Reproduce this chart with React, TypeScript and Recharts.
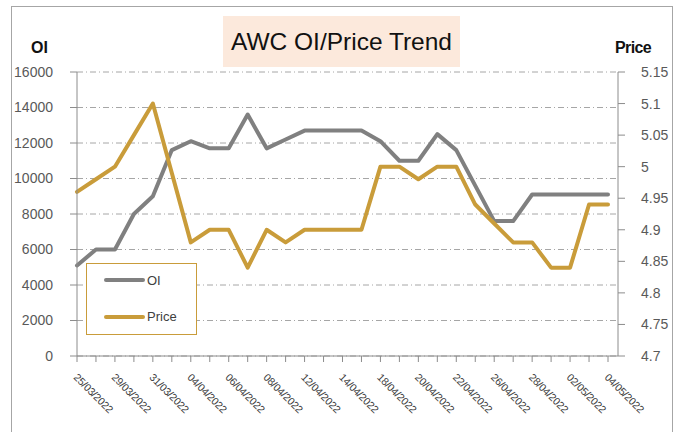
import { LineChart, Line, XAxis, YAxis, CartesianGrid } from 'recharts';

const dates = [
  '25/03/2022', '28/03/2022', '29/03/2022', '30/03/2022', '31/03/2022', '01/04/2022',
  '04/04/2022', '05/04/2022', '06/04/2022', '07/04/2022', '08/04/2022', '11/04/2022',
  '12/04/2022', '13/04/2022', '14/04/2022', '15/04/2022', '18/04/2022', '19/04/2022',
  '20/04/2022', '21/04/2022', '22/04/2022', '25/04/2022', '26/04/2022', '27/04/2022',
  '28/04/2022', '29/04/2022', '02/05/2022', '03/05/2022', '04/05/2022',
];

const oi = [
  5100, 6000, 6000, 8000, 9000, 11600, 12100, 11700, 11700, 13600, 11700, 12200,
  12700, 12700, 12700, 12700, 12100, 11000, 11000, 12500, 11600, 9600, 7600, 7600,
  9100, 9100, 9100, 9100, 9100,
];

const price = [
  4.96, 4.98, 5.0, 5.05, 5.1, 4.99, 4.88, 4.9, 4.9, 4.84, 4.9, 4.88,
  4.9, 4.9, 4.9, 4.9, 5.0, 5.0, 4.98, 5.0, 5.0, 4.94, 4.91, 4.88,
  4.88, 4.84, 4.84, 4.94, 4.94,
];

const oiTicks = [0, 2000, 4000, 6000, 8000, 10000, 12000, 14000, 16000];
const priceTicks = [4.7, 4.75, 4.8, 4.85, 4.9, 4.95, 5.0, 5.05, 5.1, 5.15];

const seriesNames = ['OI', 'Price'];
const GRAY = '#808080';
const GOLD = '#C99C3A';
const FONT = '"Liberation Sans", Arial, sans-serif';

const data = dates.map((d, i) => ({ date: d, oi: oi[i], price: price[i] }));

function DateTick(props: any) {
  const { x, y, index, payload } = props;
  if (index % 2 !== 0) return null;
  const tx = x - 4;
  const ty = y + 14;
  return (
    <text
      x={tx}
      y={ty}
      transform={`rotate(45, ${tx}, ${ty})`}
      fontSize={10.5}
      fontFamily={FONT}
      fill="#404040"
      textAnchor="start"
      letterSpacing={-0.2}
    >
      {payload.value}
    </text>
  );
}

export default function App() {
  return (
    <div style={{ position: 'absolute', left: 0, top: 0, width: 682, height: 432, background: '#fff', overflow: 'hidden', fontFamily: FONT }}>
      {/* outer frame, bottom edge sits below the viewport */}
      <div style={{ position: 'absolute', left: 11, top: 6, width: 660, height: 440, border: '1.5px solid #A6A6A6' }} />

      <div style={{
        position: 'absolute', left: 223, top: 16, width: 237, height: 51, background: '#FCE9DC',
        fontSize: 24.5, lineHeight: '51px', textAlign: 'center', color: '#111',
      }}>
        AWC OI/Price Trend
      </div>

      <div style={{ position: 'absolute', left: 31, top: 39.5, fontSize: 16, lineHeight: '16px', fontWeight: 'bold', color: '#111' }}>OI</div>
      <div style={{ position: 'absolute', left: 615, top: 39.5, fontSize: 16, lineHeight: '16px', fontWeight: 'bold', color: '#111', letterSpacing: -0.6 }}>Price</div>

      <div style={{ position: 'absolute', left: 0, top: 0 }}>
        <LineChart width={682} height={432} data={data} margin={{ top: 72, right: 10, left: 17, bottom: 0 }}>
          <CartesianGrid vertical={false} stroke="#A6A6A6" strokeDasharray="6 3 1 3" />
          <XAxis
            dataKey="date"
            interval={0}
            height={76}
            padding={{ left: 0, right: 10 }}
            tick={<DateTick />}
            tickSize={6}
            tickMargin={2}
            axisLine={{ stroke: '#8C8C8C' }}
            tickLine={{ stroke: '#8C8C8C' }}
          />
          <YAxis
            domain={[0, 16000]}
            ticks={oiTicks}
            width={60}
            tickSize={7}
            tickMargin={17}
            tick={{ fill: '#595959', fontSize: 14, fontFamily: FONT }}
            axisLine={{ stroke: '#8C8C8C' }}
            tickLine={{ stroke: '#8C8C8C' }}
          />
          <YAxis
            yAxisId="right"
            orientation="right"
            domain={[4.7, 5.15]}
            ticks={priceTicks}
            width={54}
            tickSize={7}
            tickMargin={16}
            tickFormatter={(v) => String(Number((v as number).toFixed(2)))}
            tick={{ fill: '#595959', fontSize: 14, fontFamily: FONT, textAnchor: 'start' }}
            axisLine={{ stroke: '#8C8C8C' }}
            tickLine={{ stroke: '#8C8C8C' }}
          />
          <Line dataKey="oi" name={seriesNames[0]} stroke={GRAY} strokeWidth={4} dot={false} isAnimationActive={false} strokeLinecap="round" strokeLinejoin="round" />
          <Line yAxisId="right" dataKey="price" name={seriesNames[1]} stroke={GOLD} strokeWidth={4} dot={false} isAnimationActive={false} strokeLinecap="round" strokeLinejoin="round" />
        </LineChart>
      </div>

      <div style={{ position: 'absolute', left: 86, top: 263, width: 109, height: 70, border: `1px solid ${GOLD}`, background: '#fff' }}>
        {seriesNames.map((name, i) => (
          <div key={name} style={{ position: 'absolute', left: 0, top: 8 + i * 36.5, height: 16, display: 'flex', alignItems: 'center' }}>
            <svg width={60} height={16}>
              <line x1={19} x2={56} y1={8} y2={8} stroke={i === 0 ? GRAY : GOLD} strokeWidth={4} strokeLinecap="round" />
            </svg>
            <span style={{ fontSize: 13, color: '#404040' }}>{name}</span>
          </div>
        ))}
      </div>
    </div>
  );
}
